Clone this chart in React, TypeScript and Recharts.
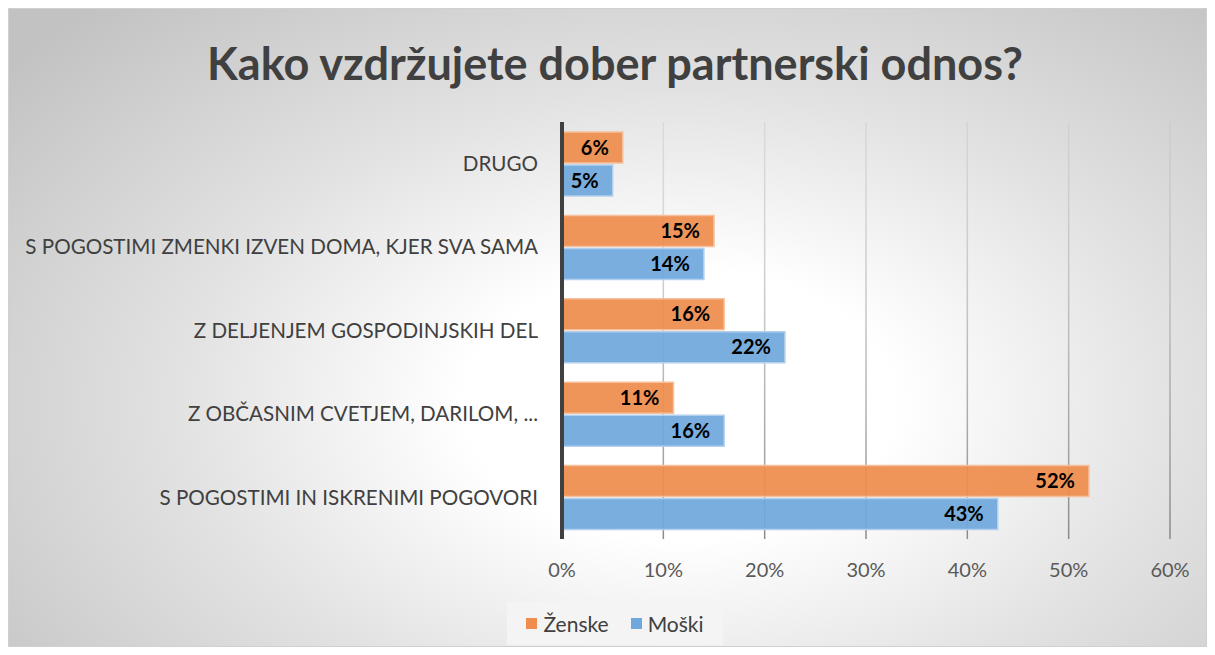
import React from "react";
import { BarChart, Bar, XAxis, YAxis, CartesianGrid, LabelList } from "recharts";

// values (percent)
const categories = [
  "DRUGO",
  "S POGOSTIMI ZMENKI IZVEN DOMA, KJER SVA SAMA",
  "Z DELJENJEM GOSPODINJSKIH DEL",
  "Z OBČASNIM CVETJEM, DARILOM, ...",
  "S POGOSTIMI IN ISKRENIMI POGOVORI",
];
const zenske = [6, 15, 16, 11, 52];
const moski = [5, 14, 22, 16, 43];
const xTicks = [0, 10, 20, 30, 40, 50, 60];
const seriesNames = ["Ženske", "Moški"];

const ORANGE = "#EE8D4E";
const BLUE = "#6FA8DC";
const FONT = "Lato, 'Open Sans', sans-serif";

const data = categories.map((name, i) => ({ name, zenske: zenske[i], moski: moski[i] }));

function CategoryTick({ x, y, payload }: any) {
  return (
    <text x={x} y={y} dy="0.35em" textAnchor="end" fill="#404040" fontSize={20.6} fontFamily={FONT}>
      {payload.value}
    </text>
  );
}

export default function App() {
  return (
    <div style={{ position: "absolute", left: 0, top: 0, width: 1215, height: 655, background: "#fff", fontFamily: FONT }}>
      <div
        style={{
          position: "absolute",
          left: 8,
          top: 8,
          width: 1199,
          height: 639,
          boxSizing: "border-box",
          border: "1px solid #d0d0d0",
          background: "radial-gradient(ellipse 72% 85% at 56% 62%, #ffffff 0%, #ffffff 25%, #e2e2e2 58%, #c2c2c2 100%)",
        }}
      />
      <div
        style={{
          position: "absolute",
          left: 0,
          top: 37,
          width: 1230,
          textAlign: "center",
          fontSize: 45,
          lineHeight: "52px",
          fontWeight: 700,
          color: "#404040",
        }}
      >
        Kako vzdržujete dober partnerski odnos?
      </div>
      <div style={{ position: "absolute", left: 0, top: 0 }}>
        <BarChart
          width={1215}
          height={655}
          layout="vertical"
          data={data}
          margin={{ top: 122, right: 45, bottom: 76, left: 0 }}
          barCategoryGap={10}
          barGap={2}
        >
          <defs>
            <linearGradient id="gridFade" gradientUnits="userSpaceOnUse" x1="0" y1="122" x2="0" y2="539">
              <stop offset="0%" stopColor="#bfbfbf" stopOpacity={0.35} />
              <stop offset="100%" stopColor="#7f7f7f" stopOpacity={0.9} />
            </linearGradient>
          </defs>
          <CartesianGrid horizontal={false} stroke="url(#gridFade)" strokeWidth={1.5} />
          <XAxis
            type="number"
            domain={[0, 60]}
            ticks={xTicks}
            tickFormatter={(v) => `${v}%`}
            axisLine={false}
            tickLine={false}
            tickMargin={18}
            height={40}
            tick={{ fill: "#595959", fontSize: 20, fontFamily: FONT }}
          />
          <YAxis
            type="category"
            dataKey="name"
            width={562}
            axisLine={{ stroke: "#404040", strokeWidth: 4 }}
            tickLine={false}
            tickMargin={18}
            tick={<CategoryTick />}
          />
          <Bar dataKey="zenske" name={seriesNames[0]} fill={ORANGE} fillOpacity={0.93} stroke="#F6C09C" strokeWidth={1.5} isAnimationActive={false}>
            <LabelList
              dataKey="zenske"
              position="insideRight"
              offset={14}
              formatter={(v: any) => `${v}%`}
              style={{ fill: "#000", fontWeight: 700, fontSize: 20, fontFamily: FONT }}
            />
          </Bar>
          <Bar dataKey="moski" name={seriesNames[1]} fill={BLUE} fillOpacity={0.93} stroke="#B2D0EE" strokeWidth={1.5} isAnimationActive={false}>
            <LabelList
              dataKey="moski"
              position="insideRight"
              offset={14}
              formatter={(v: any) => `${v}%`}
              style={{ fill: "#000", fontWeight: 700, fontSize: 20, fontFamily: FONT }}
            />
          </Bar>
        </BarChart>
      </div>
      <div
        style={{
          position: "absolute",
          left: 507,
          top: 602,
          width: 216,
          height: 43,
          background: "#f4f4f4",
          display: "flex",
          alignItems: "center",
          justifyContent: "center",
          gap: 22,
          fontSize: 21,
          color: "#404040",
        }}
      >
        {seriesNames.map((n, i) => (
          <span key={n} style={{ display: "flex", alignItems: "center" }}>
            <span style={{ width: 11, height: 11, background: i === 0 ? ORANGE : BLUE, marginRight: 6 }} />
            {n}
          </span>
        ))}
      </div>
    </div>
  );
}
